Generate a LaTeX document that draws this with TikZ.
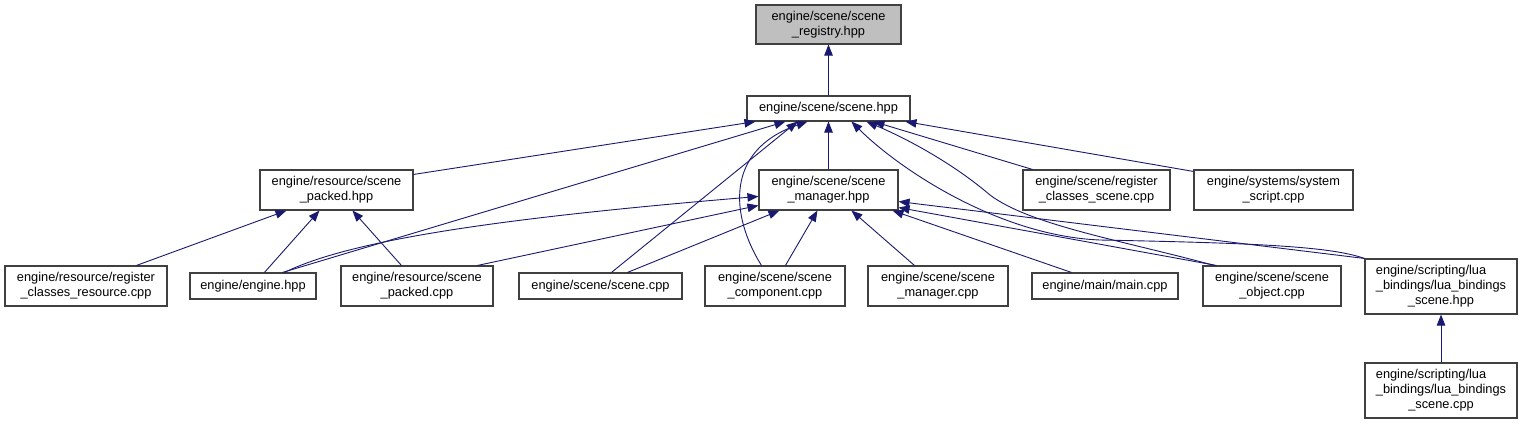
\documentclass[tikz,border=0pt]{standalone}
\usepackage{fontspec}
\setmainfont{Liberation Sans}
\usetikzlibrary{arrows.meta}
\definecolor{edgec}{HTML}{191970}
\definecolor{boxc}{HTML}{404040}
\definecolor{regfill}{HTML}{BFBFBF}
\begin{document}
\begin{tikzpicture}[x=1pt,y=-1pt,
  basebox/.style={draw=boxc, line width=1.1pt, fill=white, inner sep=0pt, font=\fontsize{12.8}{15}\selectfont},
  box/.style={basebox, align=center},
  one/.style={box, minimum height=26},
  two/.style={box, minimum height=40},
  three/.style={basebox, minimum height=55},
  dep/.style={draw=edgec, line width=0.9pt, -{Triangle[length=11pt,width=8.5pt]}},
]
\fill[white] (0,0) rectangle (1527,424);

% nodes
\node[two, fill=regfill, minimum width=145, minimum height=39] (reg) at (828.5,24.5) {engine/scene/scene\\\_registry.hpp};
\node[box, minimum width=163, minimum height=25] (scenehpp) at (828.5,108.5) {engine/scene/scene.hpp};

\node[two, minimum width=153] (packedhpp) at (336.5,190) {engine/resource/scene\\\_packed.hpp};
\node[two, minimum width=139] (mgrhpp) at (828.5,190) {engine/scene/scene\\\_manager.hpp};
\node[two, minimum width=147] (regscene) at (1096.5,190) {engine/scene/register\\\_classes\_scene.cpp};
\node[two, minimum width=159] (sysscript) at (1273.5,190) {engine/systems/system\\\_script.cpp};

\node[two, minimum width=162] (regres) at (86,286) {engine/resource/register\\\_classes\_resource.cpp};
\node[one, minimum width=126] (enginehpp) at (253,286) {engine/engine.hpp};
\node[two, minimum width=152] (packedcpp) at (417,286) {engine/resource/scene\\\_packed.cpp};
\node[one, minimum width=163] (scenecpp) at (600.5,286) {engine/scene/scene.cpp};
\node[two, minimum width=140] (component) at (775,286) {engine/scene/scene\\\_component.cpp};
\node[two, minimum width=140] (mgrcpp) at (938,286) {engine/scene/scene\\\_manager.cpp};
\node[one, minimum width=146] (maincpp) at (1105,286) {engine/main/main.cpp};
\node[two, minimum width=138] (object) at (1272,286) {engine/scene/scene\\\_object.cpp};
\node[three, minimum width=152] (luahpp) at (1441,286.5) {\begin{tabular}{@{}l@{}}engine/scripting/lua\\\_bindings/lua\_bindings\\\multicolumn{1}{@{}c@{}}{\_scene.hpp}\end{tabular}};
\node[three, minimum width=152] (luacpp) at (1441,390.5) {\begin{tabular}{@{}l@{}}engine/scripting/lua\\\_bindings/lua\_bindings\\\multicolumn{1}{@{}c@{}}{\_scene.cpp}\end{tabular}};

% edges to scene_registry.hpp
\draw[dep] (scenehpp.north) -- (reg.south);

% edges to scene.hpp
\draw[dep] ([yshift=-5pt]packedhpp.north east) -- ([xshift=9pt]scenehpp.south west);
\draw[dep] ([xshift=93pt]enginehpp.north west) -- ([xshift=39pt]scenehpp.south west);
\draw[dep] ([xshift=93pt]scenecpp.north west) -- ([xshift=51pt]scenehpp.south west);
\draw[dep] ([xshift=57pt]component.north west) .. controls (730,215) and (725,150) .. ([xshift=61pt]scenehpp.south west);
\draw[dep] (mgrhpp.north) -- (scenehpp.south);
\draw[dep] (luahpp.north west) .. controls (1330,246) and (1250,243) .. (1100,240) .. controls (1000,236) and (900,170) .. ([xshift=105pt]scenehpp.south west);
\draw[dep] ([xshift=12pt]object.north west) .. controls (1120,240) and (1030,225) .. (990,195) .. controls (955,165) and (910,140) .. ([xshift=120pt]scenehpp.south west);
\draw[dep] ([xshift=10pt]regscene.north west) -- ([xshift=127pt]scenehpp.south west);
\draw[dep] ([yshift=-2pt]sysscript.north west) -- ([xshift=159pt]scenehpp.south west);

% edges to scene_packed.hpp
\draw[dep] ([xshift=132pt]regres.north west) -- ([xshift=27pt]packedhpp.south west);
\draw[dep] ([xshift=75pt]enginehpp.north west) -- ([xshift=60pt]packedhpp.south west);
\draw[dep] ([xshift=61pt]packedcpp.north west) -- ([xshift=93pt]packedhpp.south west);

% edges to scene_manager.hpp
\draw[dep] ([xshift=95pt]enginehpp.north west) .. controls (350,240) and (500,218) .. ([yshift=-27pt]mgrhpp.north west);
\draw[dep] ([xshift=137pt]packedcpp.north west) -- ([yshift=-36pt]mgrhpp.north west);
\draw[dep] ([xshift=109pt]scenecpp.north west) -- ([xshift=21pt]mgrhpp.south west);
\draw[dep] ([xshift=81pt]component.north west) -- ([xshift=59pt]mgrhpp.south west);
\draw[dep] ([xshift=47pt]mgrcpp.north west) -- ([xshift=93pt]mgrhpp.south west);
\draw[dep] ([xshift=40pt]maincpp.north west) -- ([xshift=134pt]mgrhpp.south west);
\draw[dep] ([xshift=14pt]object.north west) -- ([yshift=3pt]mgrhpp.south east);
\draw[dep] (luahpp.north west) -- ([yshift=9pt]mgrhpp.south east);

% edge to lua_bindings_scene.hpp
\draw[dep] (luacpp.north) -- (luahpp.south);
\end{tikzpicture}
\end{document}
